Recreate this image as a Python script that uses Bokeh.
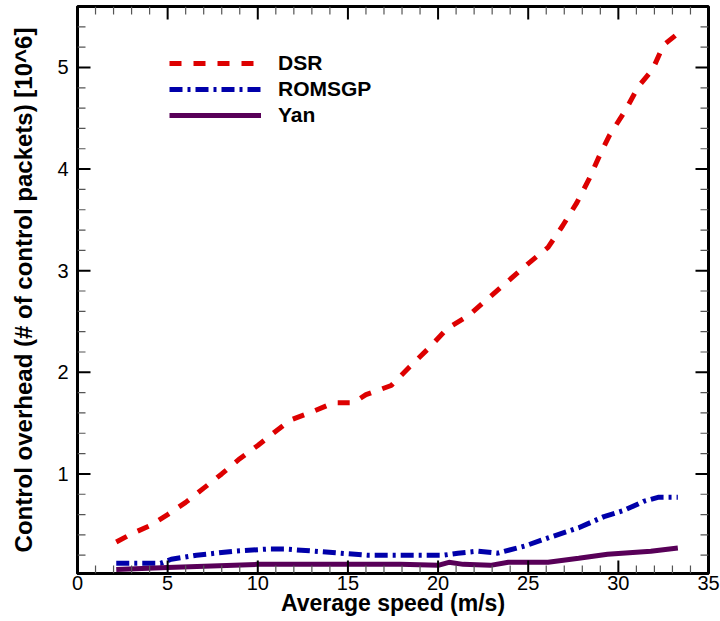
from bokeh.plotting import figure
from bokeh.models import Range1d, SingleIntervalTicker, Legend, LegendItem, BoxAnnotation
from bokeh.embed import file_html
from bokeh.resources import INLINE

# ---- data ----
dsr_x = [2.15, 3, 4, 5, 6, 7, 8, 9, 10, 11, 11.8, 13, 14.2, 15.3, 16, 17.4, 18.4, 19.5,
         20.5, 21.7, 22.8, 23.9, 25, 26.1, 26.9, 27.7, 28.4, 29, 29.5, 30.4, 31.1, 31.9,
         32.5, 33.2]
dsr_y = [0.33, 0.41, 0.49, 0.60, 0.72, 0.86, 1.00, 1.15, 1.28, 1.42, 1.53, 1.61, 1.70,
         1.70, 1.78, 1.87, 2.05, 2.24, 2.43, 2.56, 2.73, 2.90, 3.07, 3.23, 3.44, 3.67,
         3.91, 4.15, 4.33, 4.58, 4.81, 4.98, 5.22, 5.32]

rom_x = [2.15, 4.6, 5.2, 6.6, 8.7, 10.5, 11.6, 13.1, 14.6, 16.1, 20.3, 21.1, 22.2, 23.3,
         24.8, 26.1, 27.8, 29.2, 30.3, 31.4, 32.2, 33.3]
rom_y = [0.12, 0.12, 0.16, 0.20, 0.24, 0.26, 0.26, 0.24, 0.22, 0.20, 0.20, 0.22, 0.24,
         0.22, 0.29, 0.37, 0.47, 0.58, 0.64, 0.73, 0.77, 0.77]

yan_x = [2.15, 5, 10, 17.9, 20, 20.6, 21.4, 22.9, 23.9, 26.1, 27.8, 29.4, 31.8, 33.3]
yan_y = [0.06, 0.08, 0.11, 0.11, 0.10, 0.13, 0.11, 0.10, 0.13, 0.13, 0.17, 0.21, 0.24, 0.27]

series_names = ["DSR", "ROMSGP", "Yan"]
x_title = "Average speed (m/s)"
y_title = "Control overhead (# of control packets) [10^6]"

# tick values
x_lo, x_hi = 0, 35
y_lo, y_hi = 0.02, 5.6
x_major = [0, 5, 10, 15, 20, 25, 30, 35]
x_minor = [v for v in range(1, 35) if v % 5 != 0]
y_major = [1, 2, 3, 4, 5]
y_minor = [round(0.2 * k, 1) for k in range(1, 28) if k % 5 != 0]

FONT = "Liberation Sans"
W, H = 720, 621
BL, BR, BT, BB = 77, 12, 6, 48

p = figure(width=W, height=H, output_backend="svg", toolbar_location=None,
           x_range=Range1d(x_lo, x_hi), y_range=Range1d(y_lo, y_hi),
           min_border_left=BL, min_border_right=BR, min_border_top=BT, min_border_bottom=BB)
p.xgrid.visible = False
p.ygrid.visible = False
p.outline_line_color = "black"
p.outline_line_width = 3
p.outline_line_alpha = 1

p.xaxis.ticker = SingleIntervalTicker(interval=5, num_minor_ticks=5)
p.yaxis.ticker = SingleIntervalTicker(interval=1, num_minor_ticks=5)
p.xaxis.axis_label = x_title
p.yaxis.axis_label = y_title
for ax in (p.xaxis, p.yaxis):
    ax.axis_line_width = 3
    ax.axis_line_color = "black"
    ax.major_tick_in = 0
    ax.major_tick_out = 0
    ax.minor_tick_in = 0
    ax.minor_tick_out = 0
    ax.major_label_text_font = FONT
    ax.major_label_text_font_size = "20px"
    ax.major_label_text_color = "black"
    ax.axis_label_text_font = FONT
    ax.axis_label_text_font_style = "bold"
    ax.axis_label_text_color = "black"
p.xaxis.axis_label_text_font_size = "23px"
p.yaxis.axis_label_text_font_size = "24px"
p.xaxis.major_label_standoff = 2
p.xaxis.axis_label_standoff = -3
p.yaxis.major_label_standoff = 9
p.yaxis.axis_label_standoff = 17

r1 = p.line(dsr_x, dsr_y, line_color="#dd0000", line_width=5, line_dash="12 12")
r2 = p.line(rom_x, rom_y, line_color="#0000aa", line_width=5, line_dash="13 5 3 5")
r3 = p.line(yan_x, yan_y, line_color="#580058", line_width=5)

# inward ticks on all four edges, drawn as thin filled boxes (pixel sizes -> data units)
px_x = (x_hi - x_lo) / (W - BL - BR)
px_y = (y_hi - y_lo) / (H - BT - BB)
MAJ, MIN = 13, 8


def add_tick(left, right, bottom, top, color):
    p.add_layout(BoxAnnotation(left=left, right=right, bottom=bottom, top=top,
                               fill_color=color, fill_alpha=1, line_alpha=0))


for vals, length, half, color in ((x_major, MAJ, 1.0, "black"), (x_minor, MIN, 0.6, "#555555")):
    for v in vals:
        add_tick(v - half * px_x, v + half * px_x, y_lo, y_lo + length * px_y, color)
        add_tick(v - half * px_x, v + half * px_x, y_hi - length * px_y, y_hi, color)
for vals, length, half, color in ((y_major, MAJ, 1.0, "black"), (y_minor, MIN, 0.6, "#555555")):
    for v in vals:
        add_tick(x_lo, x_lo + length * px_x, v - half * px_y, v + half * px_y, color)
        add_tick(x_hi - length * px_x, x_hi, v - half * px_y, v + half * px_y, color)

legend = Legend(items=[LegendItem(label=series_names[0], renderers=[r1]),
                       LegendItem(label=series_names[1], renderers=[r2]),
                       LegendItem(label=series_names[2], renderers=[r3])],
                location=(92, 446))
legend.border_line_color = None
legend.background_fill_alpha = 0
legend.padding = 0
legend.margin = 0
legend.spacing = 2
legend.glyph_width = 92
legend.glyph_height = 20
legend.label_height = 20
legend.label_standoff = 17
legend.label_text_font = FONT
legend.label_text_font_size = "21px"
legend.label_text_font_style = "bold"
legend.label_text_color = "black"
p.add_layout(legend, "center")

open("out.html", "w").write(file_html(p, INLINE))
